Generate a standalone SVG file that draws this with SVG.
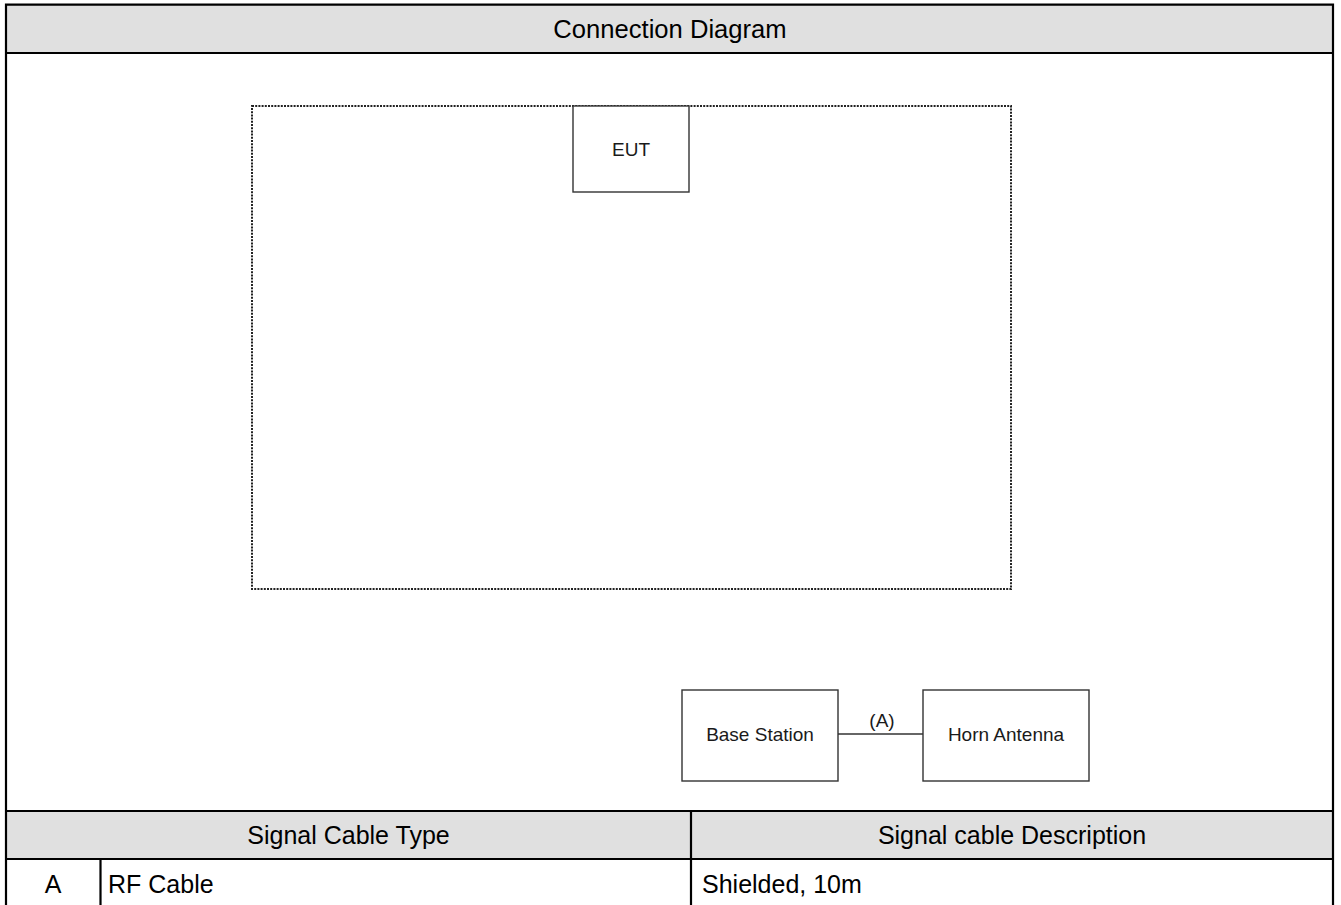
<svg xmlns="http://www.w3.org/2000/svg" width="1341" height="905" viewBox="0 0 1341 905">
<style>
.t{font-family:"Liberation Sans",Arial,sans-serif;fill:#000}
.big{font-size:25px}
.title{font-size:25.6px}
.lbl{font-size:19px;fill:#1a1a1a}
.hdr{fill:#e0e0e0}
.grid{stroke:#000;stroke-width:2.2;fill:none}
.box{fill:#fff;stroke:#333;stroke-width:1.4}
.dot{fill:none;stroke:#222;stroke-width:2;stroke-dasharray:2 1.2}
.wire{stroke:#333;stroke-width:1.4;fill:none}
</style>
<rect width="1341" height="905" fill="#fff"/>
<g id="table">
<rect class="hdr" x="6" y="5" width="1327" height="48"/>
<rect class="hdr" x="6" y="811" width="1327" height="48"/>
<path class="grid" d="M6,905 V4.7 H1333 V905 M6,53 H1333 M6,811 H1333 M6,859 H1333 M691,811 V905 M100.5,859 V905"/>
<text class="t title" x="670" y="38" text-anchor="middle">Connection Diagram</text>
<text class="t big" x="348.5" y="844" text-anchor="middle">Signal Cable Type</text>
<text class="t big" x="1012" y="844" text-anchor="middle">Signal cable Description</text>
<text class="t big" x="53" y="893" text-anchor="middle">A</text>
<text class="t big" x="108" y="893">RF Cable</text>
<text class="t big" x="702" y="893">Shielded, 10m</text>
</g>
<g id="test-area">
<rect class="dot" x="252" y="106" width="759" height="483"/>
</g>
<g id="eut">
<rect class="box" x="573" y="106" width="116" height="86"/>
<text class="t lbl" x="631" y="156" text-anchor="middle">EUT</text>
</g>
<g id="connectors">
<line class="wire" x1="838" y1="734" x2="923" y2="734"/>
<text class="t lbl" x="882" y="727" text-anchor="middle">(A)</text>
</g>
<g id="base-station">
<rect class="box" x="682" y="690" width="156" height="91"/>
<text class="t lbl" x="760" y="741" text-anchor="middle">Base Station</text>
</g>
<g id="horn-antenna">
<rect class="box" x="923" y="690" width="166" height="91"/>
<text class="t lbl" x="1006" y="741" text-anchor="middle">Horn Antenna</text>
</g>
</svg>
